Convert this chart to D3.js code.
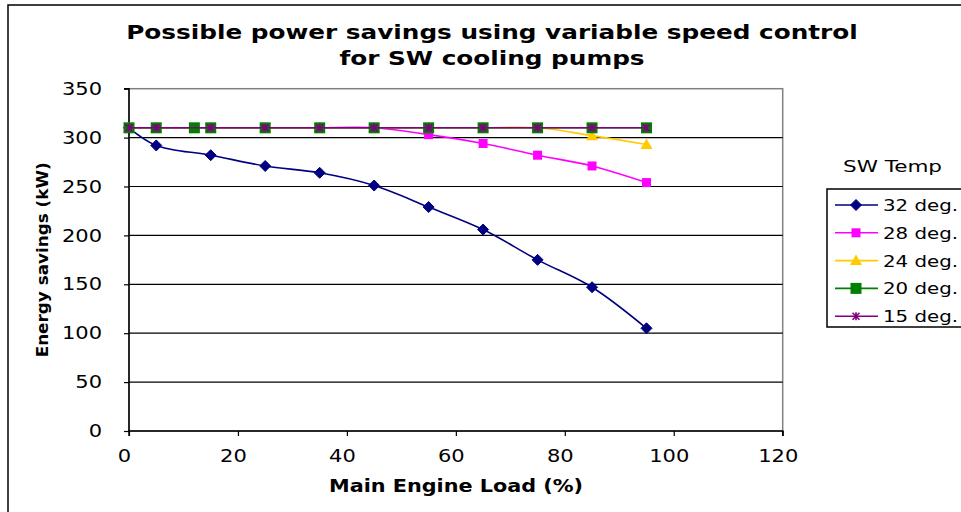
<!DOCTYPE html>
<html><head><meta charset="utf-8">
<script src="https://cdn.jsdelivr.net/npm/d3@7"></script>
<style>body{margin:0;background:#fff}svg{display:block}text{font-family:"DejaVu Sans",Verdana,sans-serif}</style>
</head><body><svg id="c" width="961" height="512"></svg>
<script>
const titleLines = ["Possible power savings using  variable speed control", "for SW cooling pumps"];
const xTicks = [0, 20, 40, 60, 80, 100, 120];
const yTicks = [0, 50, 100, 150, 200, 250, 300, 350];
const seriesNames = ["32 deg.", "28 deg.", "24 deg.", "20 deg.", "15 deg."];
const seriesColors = ["#000080", "#FF00FF", "#FFCC00", "#008000", "#800080"];
const seriesMarkers = ["diamond", "square", "triangle", "bigsquare", "star"];
const loadStd = [0, 5, 15, 25, 35, 45, 55, 65, 75, 85, 95];
const load20 = [0, 5, 12, 15, 25, 35, 45, 55, 65, 75, 85, 95];
const s32 = [310, 292, 282, 271, 264, 251, 229, 206, 175, 147, 105];
const s28 = [310, 310, 310, 310, 310, 310, 303, 294, 282, 271, 254];
const s24 = [310, 310, 310, 310, 310, 310, 310, 310, 310, 302, 293];
const s20 = [310, 310, 310, 310, 310, 310, 310, 310, 310, 310, 310, 310];
const s15 = [310, 310, 310, 310, 310, 310, 310, 310, 310, 310, 310];
const seriesX = [loadStd, loadStd, loadStd, load20, loadStd];
const seriesY = [s32, s28, s24, s20, s15];

const svg = d3.select("#c");
const L = 129, R = 782.7, T = 88.7, B = 431;
const x = d3.scaleLinear().domain([0, 120]).range([L, R]);
const y = d3.scaleLinear().domain([0, 350]).range([B, T]);

function stretch(sel, f) {
  sel.each(function () {
    const w = this.getComputedTextLength();
    d3.select(this).attr("textLength", w * f).attr("lengthAdjust", "spacingAndGlyphs");
  });
}

// outer chart border
svg.append("rect").attr("x", 8).attr("y", 5).attr("width", 1000).attr("height", 600)
  .attr("fill", "#fff").attr("stroke", "#000").attr("stroke-width", 1.5);

// title
titleLines.forEach((t, i) => {
  const el = svg.append("text").attr("text-anchor", "middle").attr("font-weight", "bold").attr("font-size", 20)
    .attr("x", 492).attr("y", 39 + i * 26).text(t);
  stretch(el, 1.236);
});

// plot area
svg.append("rect").attr("x", L).attr("y", T).attr("width", R - L).attr("height", B - T)
  .attr("fill", "#fff").attr("stroke", "#808080").attr("stroke-width", 1.5);
// gridlines
svg.append("g").selectAll("line").data(yTicks.filter(d => d > 0 && d < 350)).join("line")
  .attr("x1", L).attr("x2", R).attr("y1", d => y(d)).attr("y2", d => y(d))
  .attr("stroke", "#000").attr("stroke-width", 1.2);

// axes
const xAxis = svg.append("g").attr("transform", `translate(0,${B})`)
  .call(d3.axisBottom(x).tickValues(xTicks).tickSize(5).tickPadding(14));
const yAxis = svg.append("g").attr("transform", `translate(${L},0)`)
  .call(d3.axisLeft(y).tickValues(yTicks).tickSize(5).tickPadding(22));
[xAxis, yAxis].forEach(a => {
  a.select(".domain").attr("stroke", "#000").attr("stroke-width", 1.5);
  a.selectAll(".tick line").attr("stroke", "#000").attr("stroke-width", 1.2);
  a.selectAll("text").attr("font-size", 17.5).attr("fill", "#000").attr("font-family", '"DejaVu Sans",Verdana,sans-serif');
});
xAxis.selectAll(".tick text").attr("x", -5);
stretch(xAxis.selectAll(".tick text"), 1.2);
stretch(yAxis.selectAll(".tick text"), 1.2);
yAxis.select(".domain").attr("d", `M-5,${T}H0V${B}`);
xAxis.select(".domain").attr("d", `M${L},5V0H${R}V5`);

// axis titles
const xt = svg.append("text").attr("x", 456).attr("y", 492).attr("text-anchor", "middle")
  .attr("font-weight", "bold").attr("font-size", 17).text("Main Engine Load (%)");
xt.attr("textLength", 254).attr("lengthAdjust", "spacingAndGlyphs");
const yt = svg.append("text").attr("transform", `translate(48,${(T + B) / 2}) rotate(-90)`).attr("text-anchor", "middle")
  .attr("font-weight", "bold").attr("font-size", 16.5).text("Energy savings (kW)");
yt.attr("textLength", 195).attr("lengthAdjust", "spacingAndGlyphs");

function drawMarker(g, type, color, cx, cy) {
  if (type === "diamond") {
    g.append("path").attr("d", `M${cx},${cy - 5.5}L${cx + 5.5},${cy}L${cx},${cy + 5.5}L${cx - 5.5},${cy}Z`).attr("fill", color).attr("stroke", color);
  } else if (type === "square") {
    g.append("rect").attr("x", cx - 4.5).attr("y", cy - 4.5).attr("width", 9).attr("height", 9).attr("fill", color);
  } else if (type === "bigsquare") {
    g.append("rect").attr("x", cx - 5.5).attr("y", cy - 5.5).attr("width", 11).attr("height", 11).attr("fill", color);
  } else if (type === "triangle") {
    g.append("path").attr("d", `M${cx},${cy - 6}L${cx + 6},${cy + 4.5}L${cx - 6},${cy + 4.5}Z`).attr("fill", color);
  } else if (type === "star") {
    const s = 3.5;
    g.append("path").attr("d", `M${cx - s},${cy - s}L${cx + s},${cy + s}M${cx - s},${cy + s}L${cx + s},${cy - s}M${cx},${cy - s - 0.5}L${cx},${cy + s + 0.5}`)
      .attr("stroke", color).attr("stroke-width", 1.6).attr("fill", "none");
  }
}

const line = d3.line().x(d => x(d[0])).y(d => y(d[1])).curve(d3.curveCatmullRom.alpha(0.5));
seriesNames.forEach((n, i) => {
  const pts = seriesX[i].map((v, j) => [v, seriesY[i][j]]);
  const g = svg.append("g");
  g.append("path").attr("d", line(pts)).attr("fill", "none").attr("stroke", seriesColors[i]).attr("stroke-width", 1.6);
  pts.forEach(p => drawMarker(g, seriesMarkers[i], seriesColors[i], x(p[0]), y(p[1])));
});

// legend
const lt = svg.append("text").attr("x", 843).attr("y", 171.5).attr("font-size", 16).text("SW Temp");
lt.attr("textLength", 99).attr("lengthAdjust", "spacingAndGlyphs");
svg.append("rect").attr("x", 827).attr("y", 189).attr("width", 200).attr("height", 138)
  .attr("fill", "#fff").attr("stroke", "#000").attr("stroke-width", 1.5);
seriesNames.forEach((n, i) => {
  const cy = 205 + i * 27.8;
  const g = svg.append("g");
  g.append("line").attr("x1", 835).attr("x2", 878).attr("y1", cy).attr("y2", cy).attr("stroke", seriesColors[i]).attr("stroke-width", 1.6);
  drawMarker(g, seriesMarkers[i], seriesColors[i], 856, cy);
  const te = g.append("text").attr("x", 883).attr("y", cy + 6).attr("font-size", 16.5).text(n);
  te.attr("textLength", 75).attr("lengthAdjust", "spacingAndGlyphs");
});
</script></body></html>
